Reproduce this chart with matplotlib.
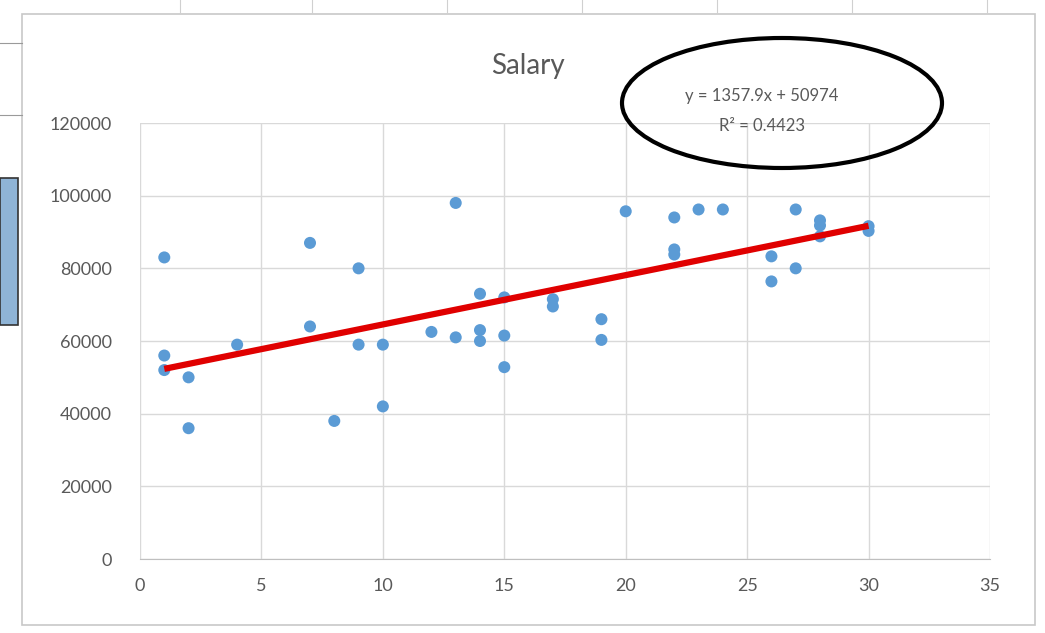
import matplotlib
matplotlib.use("Agg")
import matplotlib.pyplot as plt
from matplotlib.patches import Ellipse, Rectangle
import numpy as np

plt.rcParams['font.family'] = ['Lato', 'DejaVu Sans']

# years of experience vs salary
years = [1, 1, 1, 2, 2, 4, 7, 7, 8, 9, 9, 10, 10, 12, 13, 13, 14, 14, 14,
         15, 15, 15, 17, 17, 19, 19, 20, 22, 22, 22, 23, 24, 26, 26, 27, 27,
         28, 28, 28, 30, 30]
salary = [83000, 56000, 52000, 50000, 36000, 59000, 87000, 64000, 38000,
          80000, 59000, 59000, 42000, 62500, 98000, 61000, 73000, 63000,
          60000, 72000, 61500, 52800, 71500, 69500, 66000, 60300, 95700,
          94000, 85200, 83800, 96200, 96200, 83300, 76400, 96200, 80000,
          93200, 91800, 88800, 91600, 90300]

slope = 1357.9
intercept = 50974
r2 = 0.4423

grey = '#595959'

fig = plt.figure(figsize=(10.45, 6.33), dpi=100)
fig.patch.set_facecolor('white')

# spreadsheet bits around the chart
W, H = 1045, 633
def px(x0, y0, x1, y1):
    return (x0 / W, 1 - y1 / H, (x1 - x0) / W, (y1 - y0) / H)

for xc in [180, 312, 447, 582, 717, 852, 987]:
    fig.add_artist(plt.Line2D([xc / W, xc / W], [1, 1 - 12 / H], color='#d0d0d0', lw=0.8))
for yc in [43, 115]:
    fig.add_artist(plt.Line2D([0, 22 / W], [1 - yc / H] * 2, color='#9a9a9a', lw=0.8))
x0, y0, w, h = px(0, 178, 18, 325)
fig.add_artist(Rectangle((x0, y0), w, h, transform=fig.transFigure,
                         facecolor='#8fb4d6', edgecolor='#333333', lw=1.2))
x0, y0, w, h = px(22, 14, 1035, 625)
fig.add_artist(Rectangle((x0, y0), w, h, transform=fig.transFigure,
                         facecolor='none', edgecolor='#c8c8c8', lw=1.2))

ax = fig.add_axes([140 / W, 1 - 559 / H, 850 / W, 436 / H])
ax.set_xlim(0, 35)
ax.set_ylim(0, 120000)
ax.set_xticks(np.arange(0, 36, 5))
ax.set_yticks(np.arange(0, 120001, 20000))
ax.grid(True, color='#d9d9d9', lw=1)
ax.set_axisbelow(True)
for s in ['top', 'right', 'left']:
    ax.spines[s].set_visible(False)
ax.spines['bottom'].set_color('#bfbfbf')
ax.tick_params(length=0, colors=grey, labelsize=13)
ax.tick_params(axis='x', pad=14)
ax.tick_params(axis='y', pad=20)

ax.scatter(years, salary, s=75, color='#5b9bd5', zorder=3, edgecolors='none')
xt = np.array([min(years), max(years)])
ax.plot(xt, slope * xt + intercept, color='#e00000', lw=4.5, zorder=4,
        solid_capstyle='butt')

fig.text(528 / W, 1 - 66 / H, 'Salary', ha='center', va='center',
         fontsize=20, color=grey)
fig.text(762 / W, 1 - 96 / H, 'y = 1357.9x + 50974', ha='center', va='center',
         fontsize=12, color=grey)
fig.text(762 / W, 1 - 126 / H, 'R\u00b2 = 0.4423', ha='center', va='center',
         fontsize=12, color=grey)
fig.add_artist(Ellipse((782 / W, 1 - 103 / H), 320 / W, 130 / H,
                       transform=fig.transFigure, facecolor='none',
                       edgecolor='black', lw=3))

fig.savefig('out.png', dpi=100)
